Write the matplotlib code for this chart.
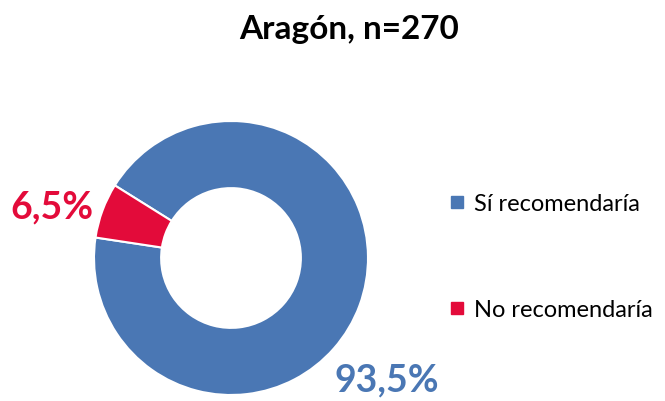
import numpy as np
import matplotlib.pyplot as plt
from matplotlib.lines import Line2D

plt.rcParams['font.family'] = ['Lato', 'DejaVu Sans']

labels = ['Sí recomendaría', 'No recomendaría']
values = [93.5, 6.5]
pct_text = ['93,5%', '6,5%']
colors = ['#4A77B4', '#E30B3A']
title = 'Aragón, n=270'

W, H = 665, 402
fig = plt.figure(figsize=(W / 100, H / 100), dpi=100)

# donut: centre (231, 259) px, radius 137 px
cx, cy, r = 231, 259, 137
ax = fig.add_axes([(cx - r) / W, (H - cy - r) / H, 2 * r / W, 2 * r / H])
wedges, _ = ax.pie(values, colors=colors, startangle=148, counterclock=False,
                   radius=1, wedgeprops=dict(width=0.49, edgecolor='white', linewidth=1.5))
ax.set_xlim(-1, 1)
ax.set_ylim(-1, 1)

# percentage labels placed outside their wedges
label_r = [1.44, 1.36]
label_ang = [-38, 164]
for txt, c, rr, a in zip(pct_text, colors, label_r, label_ang):
    t = np.deg2rad(a)
    ax.text(rr * np.cos(t), rr * np.sin(t), txt, color=c, fontsize=27,
            fontweight='bold', ha='center', va='center', clip_on=False)

fig.text(349 / W, 1 - 30 / H, title, ha='center', va='center',
         fontsize=24, fontweight='bold')

handles = [Line2D([], [], marker='s', linestyle='none', markersize=8.5,
                  markerfacecolor=c, markeredgecolor=c) for c in colors]
fig.legend(handles, labels, loc='upper left', bbox_to_anchor=(424 / W, 1 - 173 / H),
           frameon=False, fontsize=17, labelspacing=3.6, handletextpad=0.2,
           handlelength=1.0)

fig.savefig('out.png', dpi=100)
